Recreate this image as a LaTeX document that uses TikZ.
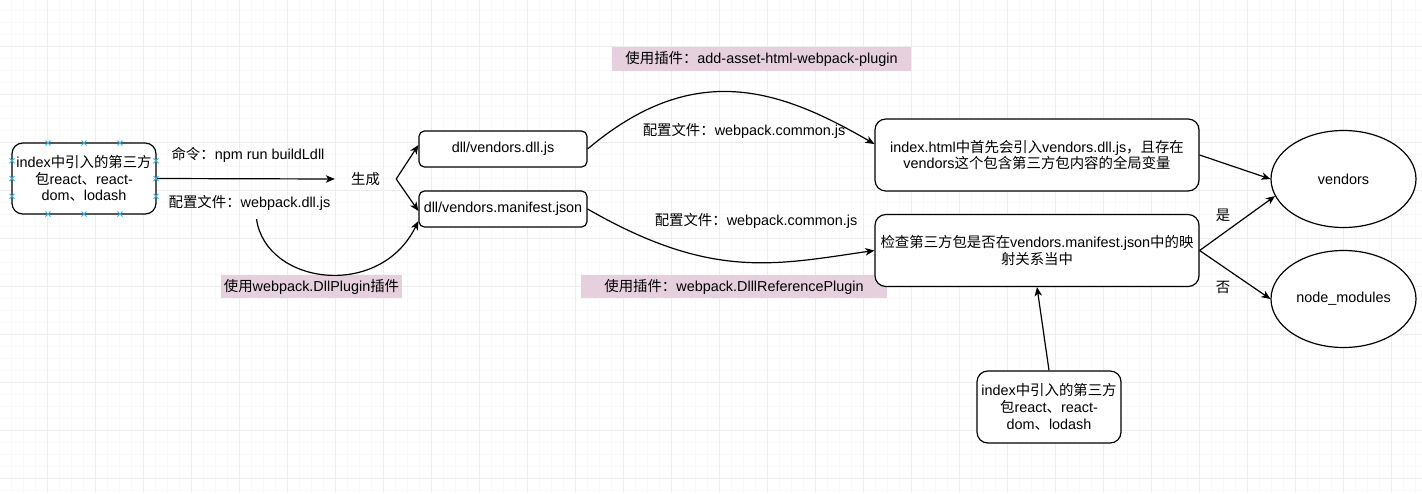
\documentclass[tikz,border=0pt]{standalone}
\usepackage{fontspec}
\setmainfont{Liberation Sans}
\newfontfamily\cjk{Noto Sans CJK SC}
\usetikzlibrary{arrows.meta,shapes.geometric}
\newcommand{\zh}[1]{{\cjk #1}}
\definecolor{pluginbg}{HTML}{E6D0DE}
\definecolor{handleblue}{HTML}{29B6F2}
\tikzset{
  box/.style={draw,line width=1.2pt,rounded corners=10.8pt,fill=white,align=center,inner sep=0pt},
  filebox/.style={draw,line width=1.2pt,rounded corners=5.4pt,fill=white,inner sep=0pt,minimum width=168pt,minimum height=36pt},
  result/.style={draw,ellipse,line width=1.2pt,fill=white,inner sep=0pt,minimum width=145pt,minimum height=97pt},
  plugin/.style={fill=pluginbg,inner sep=0pt},
  conn/.style={-{Stealth[length=9pt,width=7.5pt,inset=2.5pt]},line width=1.2pt},
  handle/.style={handleblue,line width=0.8pt},
  gridminor/.style={gray!5,line width=0.8pt},
  gridmajor/.style={gray!14,line width=0.8pt}
}
\begin{document}
\begin{tikzpicture}[x=1pt,y=-1pt,every node/.style={font=\fontsize{14.4}{16.8}\selectfont}]
  \fill[white] (0,0) rectangle (1422,493);
  \useasboundingbox (0,0) rectangle (1422,493);
  % background grid
  \foreach \x in {11.5,23.5,...,1422}
    \draw[gridminor] (\x,0) -- (\x,493);
  \foreach \y in {10.5,22.5,...,493}
    \draw[gridminor] (0,\y) -- (1422,\y);
  \foreach \x in {47.5,95.5,...,1422}
    \draw[gridmajor] (\x,0) -- (\x,493);
  \foreach \y in {46.5,94.5,...,493}
    \draw[gridmajor] (0,\y) -- (1422,\y);
  % plugin labels
  \node[plugin,minimum width=181pt,minimum height=23pt] (dllplugin) at (311.5,286.5) {\zh{使用}webpack.DllPlugin\zh{插件}};
  \node[plugin,minimum width=299pt,minimum height=24pt] (assetplugin) at (761.5,59) {\zh{使用插件：}add-asset-html-webpack-plugin};
  \node[plugin,minimum width=306pt,minimum height=23pt] (refplugin) at (734,286.5) {\zh{使用插件：}webpack.DlllReferencePlugin};
  % boxes
  \node[box,minimum width=144pt,minimum height=71pt] (src) at (84,178.5) {index\zh{中引入的第三方}\\\zh{包}react\zh{、}react-\\dom\zh{、}lodash};
  \node[minimum width=61pt,inner sep=0pt] (gen) at (365.5,179) {\zh{生成}};
  \node (cmd) at (248,155) {\zh{命令：}npm run buildLdll};
  \node (cfgdll) at (249.5,203) {\zh{配置文件：}webpack.dll.js};
  \node[filebox] (dll) at (503,149) {dll/vendors.dll.js};
  \node[filebox] (manifest) at (503,209) {dll/vendors.manifest.json};
  \node (cfgjs) at (744,131) {\zh{配置文件：}webpack.common.js};
  \node (cfgjson) at (756,221) {\zh{配置文件：}webpack.common.js};
  \node[box,minimum width=324pt,minimum height=72pt] (inject) at (1037,155) {index.html\zh{中首先会引入}vendors.dll.js\zh{，且存在}\\vendors\zh{这个包含第三方包内容的全局变量}};
  \node[box,minimum width=324pt,minimum height=72pt] (check) at (1037,250.5) {\zh{检查第三方包是否在}vendors.manifest.json\zh{中的映}\\\zh{射关系当中}};
  \node[box,minimum width=144pt,minimum height=72pt] (pkgs) at (1049,407) {index\zh{中引入的第三方}\\\zh{包}react\zh{、}react-\\dom\zh{、}lodash};
  \node[result] (vendors) at (1343.5,179) {vendors};
  \node[result] (modules) at (1343.5,299) {node\_modules};
  \node (yes) at (1223,215) {\zh{是}};
  \node (no) at (1223,287) {\zh{否}};
  % connectors
  \draw[conn] (src.east) -- (gen.west);
  \draw[conn] (gen.east) -- ([yshift=4pt]dll.west);
  \draw[conn] (gen.east) -- ([yshift=-2pt]manifest.west);
  \draw[conn] ([xshift=7pt,yshift=-5pt]cfgdll.south) .. controls (266,285) and (380,300) .. ([yshift=-12pt]manifest.west);
  \draw[conn] (dll.east) .. controls (693.5,59.5) and (779,88.5) .. ([yshift=11pt]inject.west);
  \draw[conn] (manifest.east) .. controls (711,280) and (774,265) .. (check.west);
  \draw[conn] (inject.east) -- (vendors.west);
  \draw[conn] (check.east) -- (vendors.194);
  \draw[conn] (check.east) -- (modules.west);
  \draw[conn] (pkgs.north) -- (check.south);
  % selection handles
  \foreach \x in {48,84,120} {
    \draw[handle] (\x,143) +(-2.5,-2.5) -- +(2.5,2.5) +(-2.5,2.5) -- +(2.5,-2.5);
    \draw[handle] (\x,214) +(-2.5,-2.5) -- +(2.5,2.5) +(-2.5,2.5) -- +(2.5,-2.5);
  }
  \foreach \y in {160.75,178.5,196.25} {
    \draw[handle] (12,\y) +(-2.5,-2.5) -- +(2.5,2.5) +(-2.5,2.5) -- +(2.5,-2.5);
    \draw[handle] (156,\y) +(-2.5,-2.5) -- +(2.5,2.5) +(-2.5,2.5) -- +(2.5,-2.5);
  }
\end{tikzpicture}
\end{document}
